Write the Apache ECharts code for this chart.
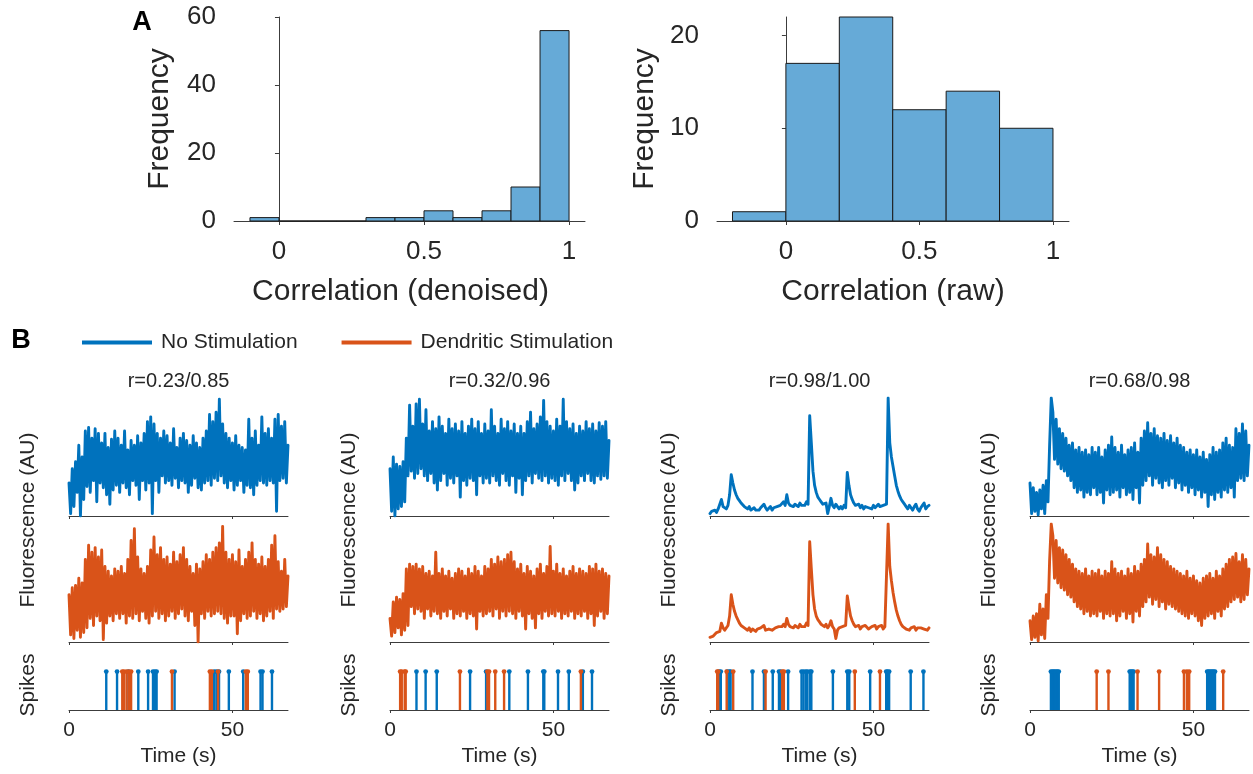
<!DOCTYPE html>
<html>
<head>
<meta charset="utf-8">
<script src="https://cdn.jsdelivr.net/npm/echarts@6/dist/echarts.min.js"></script>
<style>
  html, body { margin: 0; padding: 0; background: #ffffff; }
  #chart { width: 1253px; height: 774px; }
</style>
</head>
<body>
<div id="chart"></div>
<script>
// ---- Panel A: correlation histograms ----
const denoisedEdges = [-0.1, 0, 0.1, 0.2, 0.3, 0.4, 0.5, 0.6, 0.7, 0.8, 0.9, 1.0];
const denoisedCounts = [1, 0, 0, 0, 1, 1, 3, 1, 3, 10, 56];
const rawEdges = [-0.2, 0, 0.2, 0.4, 0.6, 0.8, 1.0];
const rawCounts = [1, 17, 22, 12, 14, 10];
const corrTicks = [0, 0.5, 1];
const denoisedFreqTicks = [0, 20, 40, 60];
const rawFreqTicks = [0, 10, 20];

// ---- Panel B: example cells ----
const cellTitles = ['r=0.23/0.85', 'r=0.32/0.96', 'r=0.98/1.00', 'r=0.68/0.98'];
const timeTicks = [0, 50];
const sampleStep = 0.5; // seconds between samples (normalised fluorescence, % of panel range)

const noStim1 = [
  28,2,40,8,46,20,60,0,50,14,
  72,25,75,20,66,30,74,12,70,28,
  62,24,70,18,58,10,65,22,72,26,
  66,20,60,28,72,24,56,18,64,30,
  60,26,68,14,62,30,70,22,80,28,
  84,2,78,30,70,20,66,34,72,28,
  68,30,62,26,74,32,58,24,66,30,
  70,28,64,20,60,26,68,32,62,24,
  58,22,66,28,72,30,86,26,80,32,
  88,30,99,34,78,28,70,24,66,30,
  62,22,68,26,60,30,58,20,56,26,
  82,24,66,18,72,26,60,30,84,28,
  70,26,74,30,66,28,82,4,86,30,
  76,32,80,28,60];
const dendStim1 = [
  40,6,46,3,48,10,54,4,50,8,
  70,12,82,20,76,14,80,22,72,18,
  78,2,64,16,60,22,56,18,62,24,
  60,20,64,24,58,16,70,22,86,20,
  96,24,72,18,62,26,58,20,64,16,
  78,22,89,26,74,20,80,24,70,18,
  72,22,66,26,76,20,68,24,74,28,
  80,22,70,18,64,26,58,14,66,0,
  62,24,68,20,74,26,70,22,76,24,
  80,26,84,24,98,20,76,16,70,22,
  74,22,68,7,78,18,64,24,70,20,
  76,22,84,26,70,20,66,24,72,18,
  64,22,70,26,82,20,90,28,68,26,
  60,28,70,30,56];
const noStim2 = [
  40,4,50,0,44,6,42,8,46,12,
  66,34,94,38,76,32,95,36,99,40,
  78,34,90,30,72,36,80,28,74,22,
  84,30,76,36,70,26,82,32,74,28,
  78,34,72,16,80,30,70,26,76,32,
  82,30,74,18,80,34,70,28,78,32,
  72,28,90,34,76,30,70,26,82,36,
  74,30,80,26,72,34,78,20,70,32,
  76,18,70,30,80,34,88,28,74,36,
  78,32,84,30,98,34,80,28,76,32,
  72,30,82,26,76,34,99,30,80,36,
  74,30,78,22,70,28,76,34,72,30,
  80,36,74,30,78,28,72,34,79,31,
  76,34,80,32,64];
const dendStim2 = [
  20,5,34,8,38,12,36,6,41,10,
  62,14,66,30,64,24,66,28,62,26,
  64,20,58,28,60,22,56,26,76,24,
  58,20,62,26,56,22,60,28,54,20,
  58,24,62,22,60,26,56,20,62,24,
  58,22,64,11,60,26,56,22,64,24,
  62,26,70,22,66,28,72,20,68,26,
  70,22,74,26,76,24,68,20,62,26,
  66,22,58,11,64,24,60,20,56,12,
  62,24,66,20,58,26,64,22,81,24,
  60,22,66,26,58,20,62,24,56,22,
  60,26,64,20,58,24,62,22,60,26,
  58,20,64,24,62,14,66,22,60,26,
  62,20,58,24,56];
const noStim3 = [
  2,4,3,5,3,6,5,14,8,7,
  6,9,18,35,28,22,18,15,13,11,
  10,8,7,6,8,5,6,7,5,6,
  5,7,6,10,7,5,6,8,5,7,
  6,8,7,9,10,12,9,18,11,9,
  9,8,10,9,8,11,9,10,9,12,
  10,85,62,38,26,20,16,14,12,10,
  9,11,2,8,15,9,7,10,8,6,
  8,6,9,7,37,26,18,14,11,9,
  8,10,7,9,6,8,9,7,8,6,
  9,7,8,10,8,7,9,8,10,100,
  62,50,42,34,26,21,17,14,12,10,
  8,6,9,7,5,8,10,6,4,7,
  9,11,6,8,9];
const dendStim3 = [
  4,3,5,6,8,7,9,16,12,10,
  11,14,22,40,32,26,22,19,16,14,
  13,12,11,10,12,9,11,10,9,11,
  10,12,11,14,10,9,11,12,10,11,
  12,11,13,14,13,15,13,20,15,13,
  13,12,14,13,12,15,13,14,13,16,
  14,85,62,40,28,22,19,17,15,14,
  13,15,12,14,18,13,11,3,10,12,
  11,13,12,14,39,30,22,18,15,13,
  12,14,11,13,12,14,13,11,12,13,
  12,14,11,13,12,14,11,13,12,100,
  64,52,42,34,27,22,18,15,13,12,
  11,12,10,12,11,13,10,12,11,12,
  13,11,12,10,12];
const noStim4 = [
  28,2,24,4,20,1,22,6,26,2,
  30,12,60,100,88,48,82,44,74,40,
  70,38,66,34,60,30,62,24,56,20,
  58,22,54,16,56,20,52,18,58,24,
  54,18,58,20,50,11,56,22,60,18,
  67,20,58,22,54,16,60,24,52,18,
  56,20,58,14,62,24,54,11,66,26,
  72,30,79,34,70,26,74,32,68,28,
  66,24,70,30,64,26,68,32,62,24,
  66,28,60,22,58,26,54,20,56,24,
  52,18,56,22,50,16,54,20,48,8,
  52,18,58,14,54,20,56,16,62,22,
  66,20,60,24,58,16,74,30,70,32,
  78,30,72,34,60];
const dendStim4 = [
  18,2,22,4,24,1,32,6,28,3,
  40,20,69,100,90,54,86,50,80,46,
  78,44,74,40,70,38,66,34,62,30,
  60,28,58,24,62,26,56,22,60,24,
  58,22,61,26,56,20,60,24,58,22,
  68,24,62,18,58,22,60,26,56,20,
  62,24,58,17,64,26,60,22,66,30,
  70,34,83,38,74,32,72,36,80,30,
  74,34,70,28,68,32,64,30,62,28,
  60,26,58,24,56,22,60,20,54,24,
  56,22,52,18,50,14,54,20,56,22,
  58,24,54,20,60,26,56,22,62,28,
  66,30,70,34,72,36,75,38,68,34,
  74,36,70,40,62];

// Inferred spike times (s)
const spikesNo1 = [11.4,14.7,18.2,21.2,24.2,25.7,26.3,26.8,32.3,44.4,45.1,45.9,48.9,53.3,58.6,59.2,62.1];
const spikesDend1 = [16.3,16.8,17.6,18.3,19.0,31.5,43.1,43.7,45.6,54.1,54.7];
const spikesNo2 = [8.1,10.9,14.3,24.5,29.4,36.5,42.2,46.9,47.2,51.4,54.7,59.0,61.8];
const spikesDend2 = [3.1,3.6,4.5,4.8,21.4,29.8,30.3,32.2,34.9,58.4];
const spikesNo3 = [2.8,3.3,5.3,5.9,6.3,13.0,16.5,19.2,21.1,21.6,23.9,28.0,28.6,29.3,29.8,30.6,31.0,37.6,42.0,42.6,49.0,53.9,54.3,54.8,61.4,65.3];
const spikesDend3 = [2.2,2.5,5.1,7.1,17.0,22.1,22.6,44.3,52.0];
const spikesNo4 = [6.4,6.8,7.2,7.6,8.0,8.4,8.8,30.5,30.9,31.3,31.7,54.2,54.6,55.0,55.4,55.8,56.2,56.6];
const spikesDend4 = [20.4,24.0,32.9,39.5,47.1,48.0,48.7,59.1];

// ---- drawing ----
const FONT = '"Liberation Sans", Arial, Helvetica, sans-serif';
const INK = '#262626';
const AXIS = '#3c3c3c';
const BLUE = '#0072BD';
const ORANGE = '#D95319';
const HIST_FILL = '#66AAD7';
const NAME_NO = 'No Stimulation';
const NAME_DEND = 'Dendritic Stimulation';

const cells = [
  { title: cellTitles[0], no: noStim1, dend: dendStim1, sNo: spikesNo1, sDend: spikesDend1 },
  { title: cellTitles[1], no: noStim2, dend: dendStim2, sNo: spikesNo2, sDend: spikesDend2 },
  { title: cellTitles[2], no: noStim3, dend: dendStim3, sNo: spikesNo3, sDend: spikesDend3 },
  { title: cellTitles[3], no: noStim4, dend: dendStim4, sNo: spikesNo4, sDend: spikesDend4 }
];

const grids = [], xAxes = [], yAxes = [], series = [], graphics = [];

function histogram(edges, counts, gridIdx, grid, xRange, yMax, yTicks, xName, yGap, namePad) {
  grids.push(grid);
  xAxes.push({
    gridIndex: gridIdx, type: 'value', min: xRange[0], max: xRange[1],
    axisLine: { show: true, onZero: false, lineStyle: { color: AXIS, width: 1 } },
    axisTick: { show: true, length: 4, customValues: corrTicks, lineStyle: { color: AXIS } },
    axisLabel: { customValues: corrTicks, fontSize: 26, color: INK, fontFamily: FONT, margin: 18 },
    splitLine: { show: false },
    name: xName, nameLocation: 'middle', nameGap: 56,
    nameTextStyle: { fontSize: 30, color: INK, fontFamily: FONT, padding: namePad }
  });
  yAxes.push({
    gridIndex: gridIdx, type: 'value', min: 0, max: yMax,
    axisLine: { show: true, lineStyle: { color: AXIS, width: 1 } },
    axisTick: { show: true, length: 4, customValues: yTicks, lineStyle: { color: AXIS } },
    axisLabel: { customValues: yTicks, fontSize: 26, color: INK, fontFamily: FONT, margin: 18 },
    splitLine: { show: false },
    name: 'Frequency', nameLocation: 'middle', nameGap: yGap, nameRotate: 90,
    nameTextStyle: { fontSize: 30, color: INK, fontFamily: FONT }
  });
  series.push({
    type: 'custom', xAxisIndex: gridIdx, yAxisIndex: gridIdx,
    data: counts.map((c, i) => [edges[i], edges[i + 1], c]),
    encode: { x: [0, 1], y: 2 },
    renderItem: (params, api) => {
      const top = api.coord([api.value(0), api.value(2)]);
      const base = api.coord([api.value(1), 0]);
      return {
        type: 'rect',
        shape: { x: top[0], y: top[1], width: base[0] - top[0], height: base[1] - top[1] },
        style: { fill: HIST_FILL, stroke: '#1a1a1a', lineWidth: 1 }
      };
    }
  });
}

histogram(denoisedEdges, denoisedCounts, 0, { left: 234, top: 17, width: 351, height: 204 },
  [-0.155, 1.055], 60, denoisedFreqTicks, 'Correlation (denoised)', 59, [0, 18, 0, 0]);
histogram(rawEdges, rawCounts, 1, { left: 717, top: 17, width: 352, height: 204 },
  [-0.258, 1.06], 22, rawFreqTicks, 'Correlation (raw)', 57, [0, 0, 0, 0]);

const T_MAX = 67;
const colLeft = [69, 390, 710, 1030];
const colWidth = 219;

function traceAxes(gi, showLabels) {
  xAxes.push({
    gridIndex: gi, type: 'value', min: 0, max: T_MAX,
    axisLine: { show: true, onZero: false, lineStyle: { color: AXIS, width: 1 } },
    axisTick: { show: true, length: 3, customValues: timeTicks, lineStyle: { color: AXIS } },
    axisLabel: showLabels
      ? { customValues: timeTicks, fontSize: 21, color: INK, fontFamily: FONT, margin: 10 }
      : { show: false },
    splitLine: { show: false },
    name: showLabels ? 'Time (s)' : '', nameLocation: 'middle', nameGap: 36,
    nameTextStyle: { fontSize: 21, color: INK, fontFamily: FONT }
  });
}

cells.forEach((cell, c) => {
  const left = colLeft[c];
  const base = grids.length;
  // fluorescence without stimulation
  grids.push({ left: left, top: 398, width: colWidth, height: 118 });
  traceAxes(base, false);
  yAxes.push({ gridIndex: base, type: 'value', min: 0, max: 100, show: false });
  // fluorescence with dendritic stimulation
  grids.push({ left: left, top: 524, width: colWidth, height: 118 });
  traceAxes(base + 1, false);
  yAxes.push({ gridIndex: base + 1, type: 'value', min: 0, max: 100, show: false });
  // inferred spikes
  grids.push({ left: left, top: 660, width: colWidth, height: 50 });
  traceAxes(base + 2, true);
  yAxes.push({
    gridIndex: base + 2, type: 'value', min: 0, max: 1.3,
    axisLine: { show: false }, axisTick: { show: false }, axisLabel: { show: false },
    splitLine: { show: false },
    name: 'Spikes', nameLocation: 'middle', nameGap: 30, nameRotate: 90,
    nameTextStyle: { fontSize: 21, color: INK, fontFamily: FONT }
  });

  const line = (name, values, color, gi) => ({
    name: name, type: 'line', xAxisIndex: gi, yAxisIndex: gi,
    data: values.map((v, i) => [i * sampleStep, v]),
    showSymbol: false, symbol: 'none', sampling: null,
    lineStyle: { color: color, width: 2.9, join: 'round', cap: 'round' },
    itemStyle: { color: color }
  });
  series.push(line(NAME_NO, cell.no, BLUE, base));
  series.push(line(NAME_DEND, cell.dend, ORANGE, base + 1));

  const stems = (name, times, color) => ({
    name: name, type: 'custom', xAxisIndex: base + 2, yAxisIndex: base + 2,
    itemStyle: { color: color },
    data: times.map(t => [t, 1]),
    encode: { x: 0, y: 1 },
    renderItem: (params, api) => {
      const b = api.coord([api.value(0), 0]);
      const t = api.coord([api.value(0), api.value(1)]);
      return {
        type: 'group',
        children: [
          { type: 'line', shape: { x1: b[0], y1: b[1], x2: t[0], y2: t[1] },
            style: { stroke: color, lineWidth: 2.4 } },
          { type: 'circle', shape: { cx: t[0], cy: t[1], r: 2.4 }, style: { fill: color } }
        ]
      };
    }
  });
  series.push(stems(NAME_NO, cell.sNo, BLUE));
  series.push(stems(NAME_DEND, cell.sDend, ORANGE));

  graphics.push({
    type: 'text', x: left + colWidth / 2, y: 381,
    style: { text: cell.title, fontSize: 20, fontFamily: FONT, fill: INK,
             textAlign: 'center', textVerticalAlign: 'middle', align: 'center', verticalAlign: 'middle' }
  });
  graphics.push({
    type: 'text', x: left - 41, y: 520, rotation: Math.PI / 2,
    style: { text: 'Fluorescence (AU)', fontSize: 21, fontFamily: FONT, fill: INK,
             textAlign: 'center', textVerticalAlign: 'middle', align: 'center', verticalAlign: 'middle' }
  });
});

graphics.push({
  type: 'text', x: 142, y: 23,
  style: { text: 'A', fontSize: 27, fontWeight: 'bold', fontFamily: FONT, fill: '#000',
           textAlign: 'center', textVerticalAlign: 'middle', align: 'center', verticalAlign: 'middle' }
});
graphics.push({
  type: 'text', x: 21, y: 341,
  style: { text: 'B', fontSize: 27, fontWeight: 'bold', fontFamily: FONT, fill: '#000',
           textAlign: 'center', textVerticalAlign: 'middle', align: 'center', verticalAlign: 'middle' }
});

const chart = echarts.init(document.getElementById('chart'), null, { renderer: 'canvas' });
chart.setOption({
  animation: false,
  backgroundColor: '#ffffff',
  textStyle: { fontFamily: FONT },
  legend: {
    data: [NAME_NO, NAME_DEND], left: 82, top: 332, padding: 0,
    icon: 'rect', itemWidth: 70, itemHeight: 4, itemGap: 44,
    textStyle: { fontSize: 21, color: INK, fontFamily: FONT, padding: [0, 0, 0, 4] },
    selectedMode: false
  },
  grid: grids,
  xAxis: xAxes,
  yAxis: yAxes,
  series: series,
  graphic: graphics
});
</script>
</body>
</html>
